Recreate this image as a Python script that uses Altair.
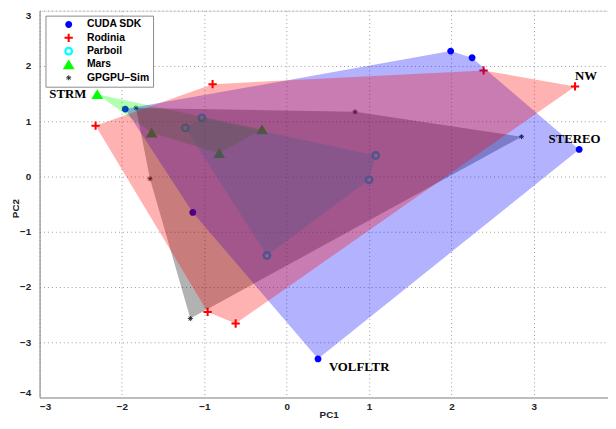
import altair as alt
import pandas as pd

# ---- data ----
suites = ["CUDA SDK", "Rodinia", "Parboil", "Mars", "GPGPU–Sim"]

cuda_x = [1.99, 2.25, 3.55, 0.38, -1.14, -1.96]
cuda_y = [2.27, 2.15, 0.49, -3.30, -0.65, 1.22]
rod_x = [-0.90, -2.32, 2.39, 3.50, -0.96, -0.62]
rod_y = [1.67, 0.92, 1.92, 1.63, -2.45, -2.66]
par_x = [-1.03, -1.23, -0.24, 1.08, 1.00]
par_y = [1.06, 0.88, -1.43, 0.38, -0.06]
mars_x = [-2.30, -1.64, -0.82, -0.30]
mars_y = [1.49, 0.79, 0.42, 0.85]
sim_x = [-1.83, -1.66, -1.17, 0.83, 2.85]
sim_y = [1.24, -0.04, -2.57, 1.17, 0.72]

series_x = [cuda_x, rod_x, par_x, mars_x, sim_x]
series_y = [cuda_y, rod_y, par_y, mars_y, sim_y]

label_names = ["STRM", "NW", "STEREO", "VOLFLTR"]
label_suite = [3, 1, 0, 0]
label_index = [0, 3, 2, 3]

x_ticks = [-3, -2, -1, 0, 1, 2, 3]
y_ticks = [-4, -3, -2, -1, 0, 1, 2, 3]

# ---- styles ----
fill_colors = ["#0000ff", "#ff0000", "#00ffff", "#00ff00", "#000000"]
# hull drawing order (index into suites): later ones on top
hull_order = [2, 3, 4, 0, 1]

marker_shapes = [
    "M-0.58,0A0.58,0.58 0 1,1 0.58,0A0.58,0.58 0 1,1 -0.58,0Z",
    "M-0.17,-0.7L0.17,-0.7L0.17,-0.17L0.7,-0.17L0.7,0.17L0.17,0.17L0.17,0.7"
    "L-0.17,0.7L-0.17,0.17L-0.7,0.17L-0.7,-0.17L-0.17,-0.17Z",
    "M-0.75,0A0.75,0.75 0 1,1 0.75,0A0.75,0.75 0 1,1 -0.75,0Z"
    "M-0.36,0A0.36,0.36 0 1,0 0.36,0A0.36,0.36 0 1,0 -0.36,0Z",
    "M0,-0.85L1,0.8L-1,0.8Z",
    "M-0.42,0L0.42,0M0,-0.42L0,0.42M-0.3,-0.3L0.3,0.3M-0.3,0.3L0.3,-0.3",
]
marker_fill = ["#0000ff", "#ff0000", "#00ffff", "#00ff00", "transparent"]
marker_stroke = ["transparent", "transparent", "transparent", "transparent", "#303030"]


def hull(xs, ys):
    pts = sorted(set(zip(xs, ys)))
    def cross(o, a, b):
        return (a[0]-o[0])*(b[1]-o[1]) - (a[1]-o[1])*(b[0]-o[0])
    lower, upper = [], []
    for p in pts:
        while len(lower) >= 2 and cross(lower[-2], lower[-1], p) <= 0:
            lower.pop()
        lower.append(p)
    for p in reversed(pts):
        while len(upper) >= 2 and cross(upper[-2], upper[-1], p) <= 0:
            upper.pop()
        upper.append(p)
    return lower[:-1] + upper[:-1]


rows = []
for s, xs, ys in zip(suites, series_x, series_y):
    for a, b in zip(xs, ys):
        rows.append({"suite": s, "x": a, "y": b})
pts_df = pd.DataFrame(rows)

xscale = alt.Scale(domain=[-3, 3.9], nice=False, zero=False)
yscale = alt.Scale(domain=[-4, 3], nice=False, zero=False)

x_axis = alt.Axis(values=x_ticks, grid=True, gridDash=[1, 3], gridColor="#9a9a9a",
                  ticks=False, domainColor="#bdbdbd", domainWidth=2,
                  labelFont="Liberation Sans", labelFontWeight="bold", labelFontSize=10,
                  labelColor="#222222", labelPadding=4, title="PC1",
                  titleFont="Liberation Sans", titleFontWeight="bold", titleFontSize=10,
                  titleColor="#222222", titleX=293, titleY=17, titleBaseline="middle")
y_axis = alt.Axis(values=y_ticks, grid=True, gridDash=[1, 3], gridColor="#9a9a9a",
                  ticks=False, domainColor="#8a8a8a", domainWidth=1,
                  labelFont="Liberation Sans", labelFontWeight="bold", labelFontSize=10,
                  labelColor="#222222", labelPadding=9, labelFlush=True, title="PC2",
                  titleFont="Liberation Sans", titleFontWeight="bold", titleFontSize=10,
                  titleColor="#222222", titleX=-24, titleY=200, titleBaseline="middle",
                  titleAngle=270)

leg = alt.Legend(title=None, orient="none", legendX=6, legendY=5,
                 labelFont="Liberation Sans", labelFontWeight="bold", labelFontSize=10.5,
                 labelColor="#000000", fillColor="white", strokeColor="#8a8a8a",
                 padding=3, symbolOffset=14, labelOffset=12, rowPadding=1.5,
                 clipHeight=12, symbolSize=144, symbolStrokeWidth=1, symbolOpacity=1)

points = alt.Chart(pts_df).mark_point(opacity=1, size=144, strokeWidth=1).encode(
    x=alt.X("x:Q", scale=xscale, axis=x_axis),
    y=alt.Y("y:Q", scale=yscale, axis=y_axis),
    shape=alt.Shape("suite:N", scale=alt.Scale(domain=suites, range=marker_shapes), legend=leg),
    fill=alt.Fill("suite:N", scale=alt.Scale(domain=suites, range=marker_fill), legend=leg),
    stroke=alt.Stroke("suite:N", scale=alt.Scale(domain=suites, range=marker_stroke), legend=leg),
)

layers = [points]
for i in hull_order:
    h = hull(series_x[i], series_y[i])
    c = fill_colors[i]
    hdf = pd.DataFrame({"x": [p[0] for p in h], "y": [p[1] for p in h],
                        "o": list(range(len(h)))})
    poly = alt.Chart(hdf).mark_line(fill=c, fillOpacity=0.3, strokeOpacity=0,
                                    stroke=c).encode(
        x=alt.X("x:Q", scale=xscale, axis=x_axis),
        y=alt.Y("y:Q", scale=yscale, axis=y_axis),
        order="o:Q",
    )
    layers.append(poly)

text_style = [dict(align="right", dx=-11, dy=0),
              dict(align="left", dx=0, dy=-11),
              dict(align="left", dx=-31, dy=-11),
              dict(align="left", dx=11, dy=8)]
for name, si, pi, st in zip(label_names, label_suite, label_index, text_style):
    tdf = pd.DataFrame({"x": [series_x[si][pi]], "y": [series_y[si][pi]], "t": [name]})
    txt = alt.Chart(tdf).mark_text(font="Liberation Serif", fontWeight="bold", fontSize=13,
                                   baseline="middle", color="black", **st).encode(
        x=alt.X("x:Q", scale=xscale, axis=x_axis),
        y=alt.Y("y:Q", scale=yscale, axis=y_axis),
        text="t:N",
    )
    layers.append(txt)

chart = alt.layer(*layers).properties(
    width=576, height=392,
    autosize=alt.AutoSizeParams(type="none"),
    padding={"left": 32, "top": 0, "right": 0, "bottom": 21},
).configure_view(stroke=None).configure(background="white")

chart.save("out.html", embed_options={"renderer": "svg", "actions": False})
